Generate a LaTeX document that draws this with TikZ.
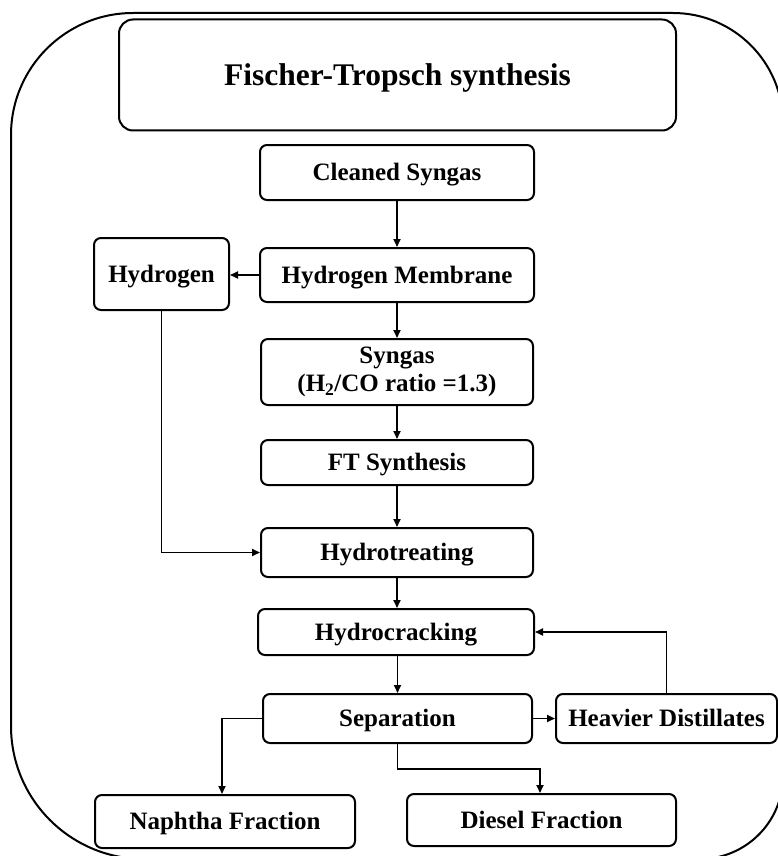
\documentclass[tikz,border=0pt]{standalone}
\usepackage{fontspec}
\setmainfont{Liberation Serif}
\usetikzlibrary{arrows.meta,calc}

\tikzset{
  box/.style={draw, line width=2pt, rounded corners=7pt, align=center,
    inner sep=0pt, font=\fontsize{25}{28}\selectfont\bfseries},
  oneline/.style={box, text height=16.5pt, text depth=0pt},
  flow/.style={line width=1.7pt, -{Triangle[length=8pt,width=7pt]}},
  frame/.style={line width=2pt}
}

\begin{document}
\begin{tikzpicture}[x=1pt,y=-1pt]
\path[use as bounding box] (0,0) rectangle (778,856);

% outer frame with unequal corner radii, cut at the page edge
\begin{scope}
\clip (0,0) rectangle (778,856);
\draw[frame] (11,726) -- (11,135)
  arc[start angle=180,end angle=270,radius=122] -- (673,13)
  arc[start angle=270,end angle=360,radius=110] -- (783,776)
  arc[start angle=0,end angle=90,radius=83] -- (144,859)
  arc[start angle=90,end angle=180,radius=133] -- cycle;
\end{scope}

% title
\node[box, text height=20.8pt, text depth=0pt, rounded corners=14pt,
  minimum width=557pt, minimum height=111pt,
  font=\fontsize{31.5}{36}\selectfont\bfseries] (title) at (397.5,75)
  {Fischer-Tropsch synthesis};

% main process chain
\node[oneline, minimum width=274pt, minimum height=55pt] (clean) at (397,172.5) {Cleaned Syngas};
\node[oneline, minimum width=274pt, minimum height=54pt] (membrane) at (397,275) {Hydrogen Membrane};
\node[oneline, minimum width=135pt, minimum height=72pt] (hydrogen) at (161.5,274) {Hydrogen};
\node[box, minimum width=272pt, minimum height=66pt] (syngas) at (397,372)
  {Syngas\\(H\textsubscript{2}/CO ratio =1.3)};
\node[oneline, minimum width=272pt, minimum height=45pt] (ft) at (397,462.5) {FT Synthesis};
\node[oneline, minimum width=272pt, minimum height=49pt] (treat) at (397,552.5) {Hydrotreating};
\node[oneline, minimum width=276pt, minimum height=46pt] (crack) at (396,632) {Hydrocracking};
\node[oneline, minimum width=269pt, minimum height=49pt] (sep) at (397.5,718.5) {Separation};
\node[oneline, minimum width=221pt, minimum height=49pt] (heavy) at (666.5,718.5) {Heavier Distillates};
\node[oneline, minimum width=260pt, minimum height=53pt] (naphtha) at (225,821.5) {Naphtha Fraction};
\node[oneline, minimum width=269pt, minimum height=52pt] (diesel) at (541.5,820) {Diesel Fraction};

% connectors
\draw[flow] (clean.south) -- (membrane.north);
\draw[flow] (membrane.west) -- (membrane.west -| hydrogen.east);
\draw[flow] (membrane.south) -- (syngas.north);
\draw[flow] (syngas.south) -- (ft.north);
\draw[flow] (ft.south) -- (treat.north);
\draw[flow] (hydrogen.south) |- (treat.west);
\draw[flow] (treat.south) -- (treat.south |- crack.north);
\draw[flow] (crack.south -| sep.north) -- (sep.north);
\draw[flow] (heavy.north) |- (crack.east);
\draw[flow] (sep.east) -- (heavy.west);
\coordinate (nap) at ($(naphtha.north)+(-3,0)$);
\draw[flow] (sep.west) -| (nap);
\coordinate (split) at ($(sep.south)+(0,25)$);
\coordinate (dsl) at ($(diesel.north)+(-1.5,0)$);
\draw[flow] (sep.south) -- (split) -| (dsl);
\end{tikzpicture}
\end{document}
